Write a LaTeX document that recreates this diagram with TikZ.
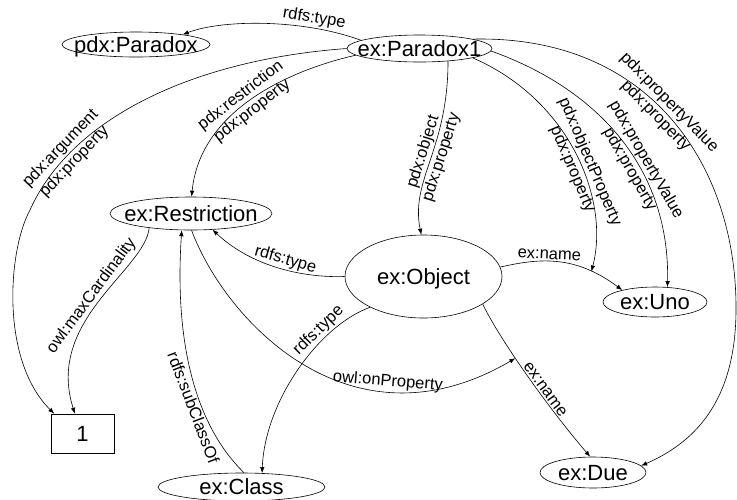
\documentclass[tikz,border=0pt]{standalone}
\usepackage{fontspec}
\setmainfont{Liberation Sans}
\usetikzlibrary{shapes.geometric,arrows.meta}
% node text centred without widening the ellipse
\newcommand\ntext[1]{\makebox[0pt]{\raisebox{-0.36em}{#1}}}
\begin{document}
\begin{tikzpicture}[x=1pt,y=-1pt,
  res/.style={draw, ellipse, inner sep=0pt, line width=0.6pt,
    text height=0pt, text depth=0pt, font=\fontsize{22}{24}\selectfont},
  lit/.style={draw, rectangle, inner sep=0pt, line width=0.6pt,
    minimum width=63pt, minimum height=39pt, font=\fontsize{22}{24}\selectfont},
  rel/.style={draw, line width=0.6pt, -{Latex[length=6pt,width=4.5pt]}},
  lab/.style={font=\fontsize{16.5}{18}\selectfont, sloped, inner sep=1.5pt},
]
\useasboundingbox (0,0) rectangle (737,499);

% resources and the literal
\node[res, minimum width=148pt, minimum height=25pt] (par) at (136,44.5) {\ntext{pdx:Paradox}};
\node[res, minimum width=145pt, minimum height=27pt] (p1) at (419.5,48.5) {\ntext{ex:Paradox1}};
\node[res, minimum width=162pt, minimum height=33pt] (restr) at (191,213.5) {\ntext{ex:Restriction}};
\node[res, minimum width=157pt, minimum height=83pt] (obj) at (423.5,276.5) {\ntext{ex:Object}};
\node[res, minimum width=104pt, minimum height=30pt] (uno) at (655,302) {\ntext{ex:Uno}};
\node[res, minimum width=106pt, minimum height=31pt] (due) at (593,472.5) {\ntext{ex:Due}};
\node[res, minimum width=167pt, minimum height=28pt] (cls) at (241.5,487) {\ntext{ex:Class}};
\node[lit] (one) at (82.5,433.5) {1};

% statements about ex:Object
\draw[rel] (obj.7) .. controls (540,258) and (575,255) .. (uno.160)
  coordinate[pos=.77] (nameU) node[lab,above,pos=.42] {ex:name};
\draw[rel] (obj.335) .. controls (500,340) and (550,410) .. (due.100)
  coordinate[pos=.39] (nameD) node[lab,above,pos=.6] {ex:name};
\draw[rel] (obj.180) .. controls (300,278) and (250,265) .. (restr.323)
  node[lab,above,pos=.45] {rdfs:type};
\draw[rel] (obj.210) .. controls (320,325) and (265,400) .. (cls.34)
  node[lab,above,pos=.3] {rdfs:type};

% the restriction
\draw[rel] (cls.80) .. controls (190,420) and (175,330) .. (restr.241)
  node[lab,below,pos=.35] {rdfs:subClassOf};
\draw[rel] (restr.199) .. controls (145,270) and (45,320) .. (one.111)
  node[lab,above,pos=.5] {owl:maxCardinality};
\draw[rel] (restr.272) .. controls (225,320) and (350,455) .. (nameD)
  node[lab,above,pos=.72] {owl:onProperty};

% statements about ex:Paradox1
\draw[rel] (p1.172) .. controls (300,18) and (220,20) .. (par.12)
  node[lab,above,pos=.25] {rdfs:type};
\draw[rel] (p1.186) .. controls (290,70) and (200,110) .. (restr.88)
  node[lab,above,pos=.53] {pdx:restriction}
  node[lab,below,pos=.53] {pdx:property};
\draw[rel] (p1.180) .. controls (190,60) and (70,120) .. (30,210)
  node[lab,above,pos=.78] {pdx:argument}
  node[lab,below,pos=.78] {pdx:property}
  .. controls (8,250) and (0,360) .. (one.145);
\draw[rel] (p1.336) .. controls (448,150) and (410,180) .. (obj.93)
  node[lab,above,pos=.46] {pdx:object}
  node[lab,below,pos=.46] {pdx:property};
\draw[rel] (p1.350) .. controls (570,100) and (610,200) .. (nameU)
  node[lab,above,pos=.55] {pdx:objectProperty}
  node[lab,below,pos=.55] {pdx:property};
\draw[rel] (p1.358) .. controls (600,90) and (670,170) .. (uno.50)
  node[lab,above,pos=.6] {pdx:propertyValue}
  node[lab,below,pos=.6] {pdx:property};
\draw[rel] (p1.10) .. controls (650,35) and (735,165) .. (736,305)
  node[lab,above,pos=.47] {pdx:propertyValue}
  node[lab,below,pos=.47] {pdx:property}
  .. controls (737,395) and (700,440) .. (due.8);
\end{tikzpicture}
\end{document}
